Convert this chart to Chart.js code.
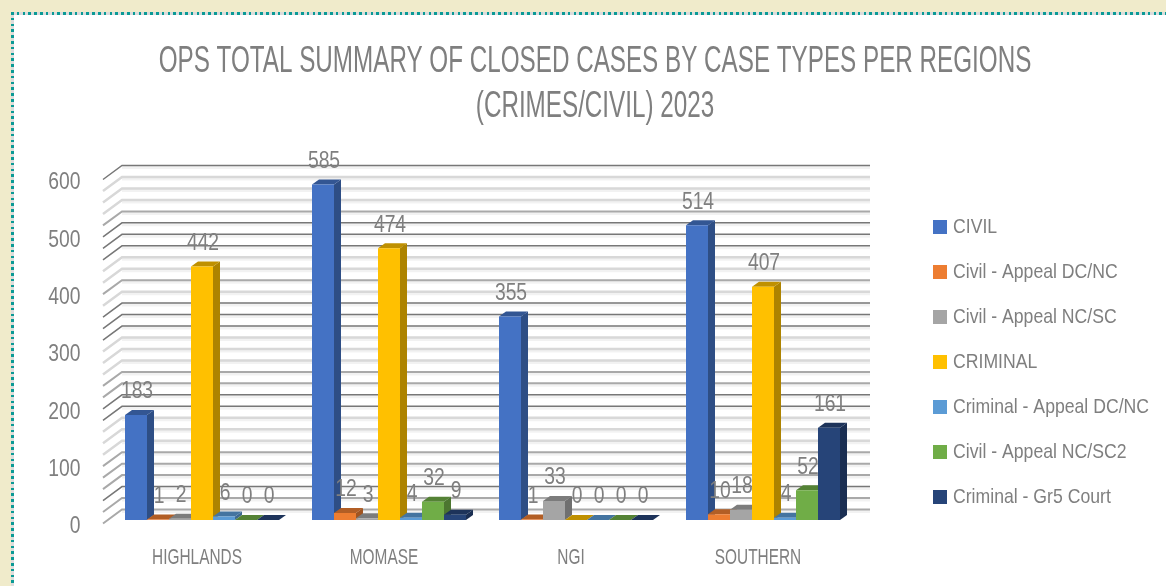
<!DOCTYPE html>
<html>
<head>
<meta charset="utf-8">
<title>Closed cases 2023</title>
<script src="https://cdn.jsdelivr.net/npm/chart.js@4/dist/chart.umd.min.js"></script>
<style>
    html, body { margin: 0; padding: 0; width: 1166px; height: 586px; overflow: hidden; background: #f0ebcb; }
    #panel { position: absolute; left: 11px; top: 12px; width: 1155px; height: 574px; background: #fff; }
    #edge-top { position: absolute; left: 11px; top: 12px; width: 1155px; height: 3px; background: repeating-linear-gradient(90deg, #0a9a96 0 2.5px, #dcdcdc 2.5px 5.8px); }
    #edge-left { position: absolute; left: 11px; top: 12px; width: 3px; height: 574px; background: repeating-linear-gradient(180deg, #0a9a96 0 2.5px, #dcdcdc 2.5px 5.8px); }
    #chart { position: absolute; left: 0; top: 0; }
</style>
</head>
<body>
<div id="panel"></div>
<div id="edge-top"></div>
<div id="edge-left"></div>
<canvas id="chart" width="1166" height="586"></canvas>
<script>
const regioes = ['HIGHLANDS', 'MOMASE', 'NGI', 'SOUTHERN'];
const civil = [183, 585, 355, 514];
const civilAppealDC = [1, 12, 1, 10];
const civilAppealNC = [2, 3, 33, 18];
const criminal = [442, 474, 0, 407];
const criminalAppealDC = [6, 4, 0, 4];
const civilAppealNC2 = [0, 32, 0, 52];
const criminalGr5 = [0, 9, 0, 161];

const cinza = '#7f7f7f';
const fonte = '"Liberation Sans Narrow", "Arial Narrow", sans-serif';

// a fonte original e mais estreita: aperto horizontal por tamanho de fonte
const apertoTexto = { 37: 0.655, 23: 0.84, 22: 0.7, 21: 0.84 };

// tom de cada linha da grade, de 600 ate 0 (D escura, M media, L clara)
const tonsGrade = 'DLLLMDDDLLMLDDDLLLMMDDLLLMMMDMM';
const estilos = {
    D: { cor: '#777777', largura: 1.5 },
    M: { cor: '#a9a9a9', largura: 2 },
    L: { cor: '#d8d8d8', largura: 2.5 }
};

function escurecer(hex, f) {
    const n = parseInt(hex.slice(1), 16);
    const r = Math.round((n >> 16) * f);
    const g = Math.round(((n >> 8) & 255) * f);
    const b = Math.round((n & 255) * f);
    return `rgb(${r}, ${g}, ${b})`;
}

function serie(label, data, cor) {
    return { label, data, backgroundColor: cor, borderWidth: 0 };
}

function poligono(ctx, pontos, cor) {
    ctx.fillStyle = cor;
    ctx.beginPath();
    pontos.forEach((p, i) => (i ? ctx.lineTo(p[0], p[1]) : ctx.moveTo(p[0], p[1])));
    ctx.closePath();
    ctx.fill();
}

const textoEstreito = {
    id: 'textoEstreito',
    beforeInit(chart) {
        const ctx = chart.ctx;
        const original = ctx.fillText.bind(ctx);
        ctx.fillText = (texto, x, y) => {
            const tamanho = parseFloat(ctx.font.match(/([\d.]+)px/)[1]);
            ctx.save();
            ctx.translate(x, y);
            ctx.scale(apertoTexto[tamanho] || 1, 1);
            original(texto, 0, 0);
            ctx.restore();
        };
    }
};

// paredes: linhas da grade no fundo e na lateral esquerda
const grade3d = {
    id: 'grade3d',
    beforeDatasetsDraw(chart) {
        const { ctx, chartArea, scales } = chart;
        const xFundo = chartArea.left + 13.5;
        const xFim = chartArea.right + 13.5;
        const xFrente = chartArea.left - 5.5;
        ctx.save();
        scales.y.ticks.forEach(tick => {
            const y = scales.y.getPixelForValue(tick.value) - 10.5;
            const est = estilos[tonsGrade[(600 - tick.value) / 20]];
            ctx.strokeStyle = 'rgba(0, 0, 0, 0.05)';
            ctx.lineWidth = 3;
            ctx.beginPath();
            ctx.moveTo(xFundo, y + 2);
            ctx.lineTo(xFim, y + 2);
            ctx.stroke();
            ctx.strokeStyle = est.cor;
            ctx.lineWidth = est.largura;
            ctx.beginPath();
            ctx.moveTo(xFrente, y + 14);
            ctx.lineTo(xFundo, y);
            ctx.lineTo(xFim, y);
            ctx.stroke();
        });
        ctx.restore();
    }
};

// faces lateral e superior das barras; as frentes o proprio Chart.js desenha por cima
const barras3d = {
    id: 'barras3d',
    beforeDatasetsDraw(chart) {
        const { ctx } = chart;
        chart.data.datasets.forEach((ds, i) => {
            chart.getDatasetMeta(i).data.forEach(bar => {
                const { x, y, base, width } = bar.getProps(['x', 'y', 'base', 'width']);
                const esq = x - width / 2;
                const dir = x + width / 2;
                poligono(ctx, [[dir, y], [dir + 7, y - 5], [dir + 7, base - 5], [dir, base]], escurecer(ds.backgroundColor, 0.68));
                poligono(ctx, [[esq, y], [esq + 7, y - 5], [dir + 7, y - 5], [dir, y]], escurecer(ds.backgroundColor, 0.75));
            });
        });
    }
};

const rotulos = {
    id: 'rotulos',
    afterDatasetsDraw(chart) {
        const { ctx } = chart;
        ctx.save();
        ctx.fillStyle = cinza;
        ctx.font = `23px ${fonte}`;
        ctx.textAlign = 'center';
        ctx.textBaseline = 'middle';
        chart.data.datasets.forEach((ds, i) => {
            chart.getDatasetMeta(i).data.forEach((bar, j) => {
                ctx.fillText(ds.data[j], bar.x + 1, bar.y - 23);
            });
        });
        ctx.restore();
    }
};

// legenda ocupa toda a faixa direita e depois e colocada na posicao certa
const legendaFixa = {
    id: 'legendaFixa',
    beforeInit(chart) {
        const fit = chart.legend.fit;
        chart.legend.fit = function () {
            fit.call(this);
            this.width = 309.5;
        };
    },
    afterLayout(chart) {
        chart.legend.left = 913.5;
        chart.legend.top = 192.5;
        chart.legend.bottom = 586;
    }
};

new Chart(document.getElementById('chart'), {
    type: 'bar',
    data: {
        labels: regioes,
        datasets: [
            serie('CIVIL', civil, '#4472c4'),
            serie('Civil - Appeal DC/NC', civilAppealDC, '#ed7d31'),
            serie('Civil - Appeal NC/SC', civilAppealNC, '#a5a5a5'),
            serie('CRIMINAL', criminal, '#ffc000'),
            serie('Criminal - Appeal DC/NC', criminalAppealDC, '#5b9bd5'),
            serie('Civil - Appeal NC/SC2', civilAppealNC2, '#70ad47'),
            serie('Criminal - Gr5 Court', criminalGr5, '#264478')
        ]
    },
    options: {
        responsive: false,
        animation: false,
        layout: { padding: { left: 24, top: 0, right: 0, bottom: 0 } },
        datasets: { bar: { categoryPercentage: 0.8235, barPercentage: 1 } },
        scales: {
            x: {
                grid: { display: false },
                border: { display: false },
                afterFit: scale => { scale.height = 66; },
                ticks: {
                    color: cinza,
                    font: { family: fonte, size: 22 },
                    padding: 17,
                    labelOffset: -5,
                    maxRotation: 0
                }
            },
            y: {
                min: 0,
                max: 600,
                grid: { display: false, drawTicks: false },
                border: { display: false },
                afterFit: scale => { scale.width = 84.5; },
                ticks: {
                    stepSize: 20,
                    autoSkip: false,
                    color: cinza,
                    font: { family: fonte, size: 23 },
                    padding: 28,
                    labelOffset: 7,
                    callback: v => (v % 100 === 0 ? v : '')
                }
            }
        },
        plugins: {
            title: {
                display: true,
                text: ['OPS TOTAL SUMMARY OF CLOSED CASES BY CASE TYPES PER REGIONS', '(CRIMES/CIVIL) 2023'],
                color: cinza,
                font: { family: fonte, size: 37, weight: 'normal', lineHeight: 1.23 },
                padding: { top: 39, bottom: 46 }
            },
            legend: {
                position: 'right',
                align: 'start',
                labels: {
                    color: cinza,
                    font: { family: fonte, size: 21, lineHeight: 1 },
                    boxWidth: 5,
                    boxHeight: 5,
                    padding: 24,
                    generateLabels(chart) {
                        return Chart.defaults.plugins.legend.labels.generateLabels(chart).map(item => ({
                            ...item,
                            strokeStyle: item.fillStyle,
                            lineWidth: 9
                        }));
                    }
                }
            },
            tooltip: { enabled: false }
        }
    },
    plugins: [textoEstreito, grade3d, barras3d, rotulos, legendaFixa]
});
</script>
</body>
</html>
